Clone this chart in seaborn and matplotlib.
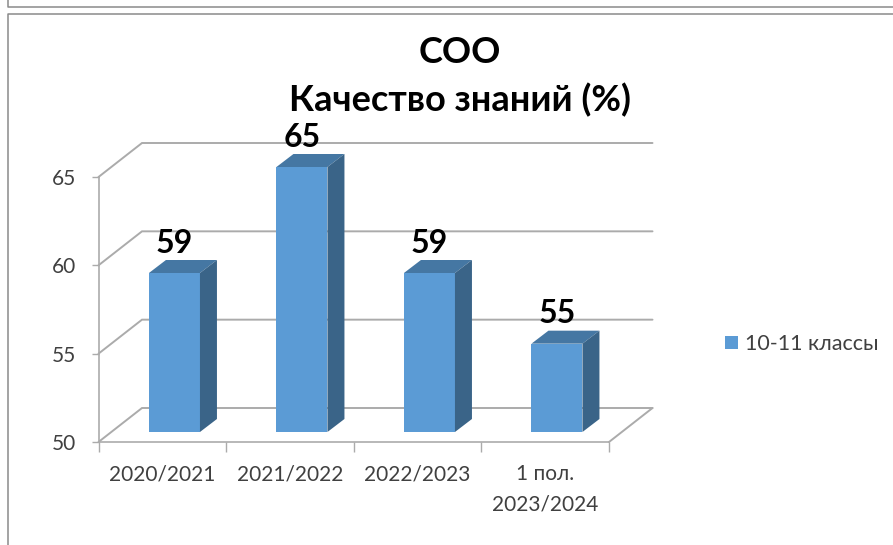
import pandas as pd
import matplotlib
matplotlib.use("Agg")
import matplotlib.pyplot as plt
import seaborn as sns
from matplotlib.lines import Line2D
from matplotlib.patches import Polygon

categories = ["2020/2021", "2021/2022", "2022/2023", "1 пол.\n2023/2024"]
values = [59, 65, 59, 55]
y_ticks = [50, 55, 60, 65]
series_name = "10-11 классы"
title_text = "СОО\nКачество знаний (%)"

W, H = 893, 545
FRONT = "#5B9BD5"
TOP = "#4577A3"
SIDE = "#3A6488"
GRID = "#ABABAB"
TEXT = "#404040"

sns.set_theme(style="white")
plt.rcParams["font.family"] = ["Lato", "DejaVu Sans"]


def axes_box(left, right, top, bottom):
    return [left / W, 1 - bottom / H, (right - left) / W, (bottom - top) / H]


def frame_line(xs, ys, color="#8A8A8A", lw=1.1):
    fig.add_artist(Line2D([x / W for x in xs], [1 - y / H for y in ys], color=color, lw=lw))


df = pd.DataFrame({"year": categories, "quality": values})
fig = plt.figure(figsize=(W / 100, H / 100), dpi=100, facecolor="white")

# outer frames of the screenshot
frame_line([8, 8, W], [0, 7, 7])
frame_line([8, 8, W], [H, 14, 14])

# front plane: axis lines, ticks and the walls going back
ax = fig.add_axes(axes_box(98.5, 609, 177, 442))
ax.set_xlim(-0.5, 3.5)
ax.set_ylim(50, 65)
for name in ["top", "right"]:
    ax.spines[name].set_visible(False)
for name in ["left", "bottom"]:
    ax.spines[name].set_color(GRID)
    ax.spines[name].set_linewidth(1.2)

ax.set_yticks(y_ticks)
ax.tick_params(axis="y", which="major", left=True, length=5, width=1, color=GRID,
               labelsize=15, labelcolor=TEXT, pad=11)
edges = [i - 0.5 for i in range(len(categories) + 1)]
ax.set_xticks(edges)
ax.set_xticklabels([])
ax.set_xticks(range(len(categories)), labels=categories, minor=True)
ax.tick_params(axis="x", which="major", bottom=True, length=7, width=1, color=GRID)
ax.tick_params(axis="x", which="minor", bottom=False, length=0, labelsize=15,
               labelcolor=TEXT, pad=16)
for label in ax.get_xticklabels(minor=True):
    label.set_linespacing(1.65)

wall_dx = 43.5 / (510.5 / 4)
wall_dy = 34 / (265 / 15)
for v in y_ticks:
    ax.plot([-0.5, -0.5 + wall_dx, 3.5 + wall_dx], [v, v + wall_dy, v + wall_dy],
            color=GRID, lw=1.4, clip_on=False, solid_joinstyle="miter")
ax.plot([3.5, 3.5 + wall_dx], [50, 50 + wall_dy], color=GRID, lw=1.4, clip_on=False)

# bars sit a little behind the front plane, so they get their own axes
ax_bars = fig.add_axes(axes_box(110.7, 620.7, 167, 432))
ax_bars.patch.set_visible(False)
sns.barplot(data=df, x="year", y="quality", color=FRONT, saturation=1, width=0.4,
            edgecolor="none", linewidth=0, label=series_name, legend=False, ax=ax_bars)
ax_bars.set_xlim(-0.5, 3.5)
ax_bars.set_ylim(50, 65)
ax_bars.axis("off")

depth_x = 17 / (510 / 4)
depth_y = 13 / (265 / 15)
for bar, v in zip(ax_bars.patches, values):
    x0 = bar.get_x()
    x1 = x0 + bar.get_width()
    ax_bars.add_patch(Polygon([(x0, v), (x1, v), (x1 + depth_x, v + depth_y), (x0 + depth_x, v + depth_y)],
                              facecolor=TOP, edgecolor="none", clip_on=False))
    ax_bars.add_patch(Polygon([(x1, 50), (x1 + depth_x, 50 + depth_y), (x1 + depth_x, v + depth_y), (x1, v)],
                              facecolor=SIDE, edgecolor="none", clip_on=False))
    ax_bars.annotate(str(v), (x0 + bar.get_width() / 2, v), xytext=(0, 11), textcoords="offset points",
                     ha="center", va="bottom", fontsize=23, fontweight="bold", color="black",
                     annotation_clip=False)

handles = [bar for bar in ax_bars.patches[:1]]
fig.legend(handles, [series_name], loc="center left", bbox_to_anchor=(725 / W, 1 - 344 / H),
           frameon=False, fontsize=15.5, labelcolor=TEXT, handlelength=0.6, handleheight=0.6,
           handletextpad=0.33, borderpad=0, borderaxespad=0)

fig.text(460 / W, 1 - 76.5 / H, title_text, ha="center", va="center", fontsize=26,
         fontweight="bold", color="black", linespacing=1.48)

fig.savefig("out.png", dpi=100)
